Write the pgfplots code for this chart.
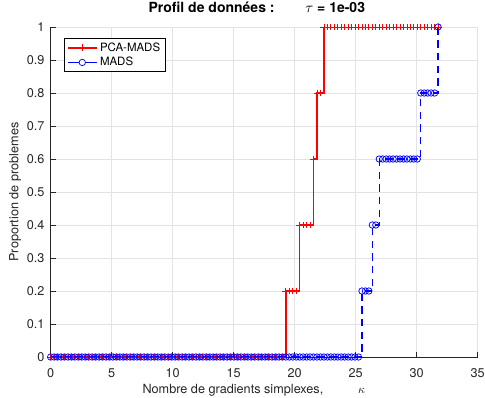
\documentclass[border=0pt]{standalone}
\usepackage{fontspec}
\setmainfont{TeX Gyre Heros}
\usepackage{pgfplots}
\usepackage{pgfplotstable}
\pgfplotsset{compat=1.18}
\definecolor{axgray}{HTML}{262626}
\definecolor{gridgray}{HTML}{E3E3E3}
\definecolor{pr}{RGB}{255,0,0}
\definecolor{pb}{RGB}{0,0,255}

\pgfplotstableread{
x red blue
0 0 0
0.2835 0 0
0.567 0 0
0.8505 0 0
1.134 0 0
1.4175 0 0
1.701 0 0
1.9845 0 0
2.268 0 0
2.5515 0 0
2.835 0 0
3.1185 0 0
3.402 0 0
3.6855 0 0
3.969 0 0
4.2525 0 0
4.536 0 0
4.8195 0 0
5.103 0 0
5.3865 0 0
5.67 0 0
5.9535 0 0
6.237 0 0
6.5205 0 0
6.804 0 0
7.0875 0 0
7.371 0 0
7.6545 0 0
7.938 0 0
8.2215 0 0
8.505 0 0
8.7885 0 0
9.072 0 0
9.3555 0 0
9.639 0 0
9.9225 0 0
10.206 0 0
10.4895 0 0
10.773 0 0
11.0565 0 0
11.34 0 0
11.6235 0 0
11.907 0 0
12.1905 0 0
12.474 0 0
12.7575 0 0
13.041 0 0
13.3245 0 0
13.608 0 0
13.8915 0 0
14.175 0 0
14.4585 0 0
14.742 0 0
15.0255 0 0
15.309 0 0
15.5925 0 0
15.876 0 0
16.1595 0 0
16.443 0 0
16.7265 0 0
17.01 0 0
17.2935 0 0
17.577 0 0
17.8605 0 0
18.144 0 0
18.4275 0 0
18.711 0 0
18.9945 0 0
19.278 0.2 0
19.5615 0.2 0
19.845 0.2 0
20.1285 0.2 0
20.412 0.4 0
20.6955 0.4 0
20.979 0.4 0
21.2625 0.4 0
21.546 0.6 0
21.8295 0.8 0
22.113 0.8 0
22.3965 1 0
22.68 1 0
22.9635 1 0
23.247 1 0
23.5305 1 0
23.814 1 0
24.0975 1 0
24.381 1 0
24.6645 1 0
24.948 1 0
25.2315 1 0
25.515 1 0.2
25.7985 1 0.2
26.082 1 0.2
26.3655 1 0.4
26.649 1 0.4
26.9325 1 0.6
27.216 1 0.6
27.4995 1 0.6
27.783 1 0.6
28.0665 1 0.6
28.35 1 0.6
28.6335 1 0.6
28.917 1 0.6
29.2005 1 0.6
29.484 1 0.6
29.7675 1 0.6
30.051 1 0.6
30.3345 1 0.8
30.618 1 0.8
30.9015 1 0.8
31.185 1 0.8
31.4685 1 0.8
31.752 1 1
}\datatable

\begin{document}
\begin{tikzpicture}
\path[use as bounding box] (-38pt,-30pt) rectangle (325.75pt,267.75pt);
\begin{axis}[
  at={(0,0)}, anchor=south west,
  scale only axis, width=320.25pt, height=247.5pt,
  xmin=0, xmax=35, ymin=0, ymax=1,
  xtick={0,5,10,15,20,25,30,35},
  ytick={0,0.1,0.2,0.3,0.4,0.5,0.6,0.7,0.8,0.9,1},
  /pgf/number format/assume math mode=true,
  axis x line*=bottom, axis y line*=left,
  axis line style={axgray, line width=0.6pt, -},
  tick align=inside, major tick length=3.75pt,
  tick style={axgray, line width=0.6pt},
  grid=major, major grid style={gridgray, line width=0.5pt},
  tick label style={font=\fontsize{9.5}{11}\selectfont, text=axgray},
  xticklabel style={yshift=-5pt},
  yticklabel style={xshift=-1.1pt},
  label style={font=\fontsize{9.5}{11}\selectfont, text=axgray},
  xlabel={Nombre de gradients simplexes,\hspace{26pt}$\kappa$},
  xlabel style={at={(axis description cs:0.4758,-0.1121)}, anchor=base},
  ylabel={Proportion de problemes},
  ylabel style={at={(axis description cs:-0.0754,0.5)}, anchor=base},
  title={Profil de données :\hspace{23pt}$\tau$ = 1e-03},
  title style={at={(axis description cs:0.4828,1.0212)}, anchor=base, font=\bfseries\fontsize{10.5}{12}\selectfont, text=black},
  legend style={at={(axis description cs:0,1)}, anchor=north west, xshift=10.2pt, yshift=-8.5pt,
    font=\fontsize{8.6}{10}\selectfont, inner xsep=2pt, inner ysep=1pt,
    row sep=-1pt},
  every legend/.append style={draw=black},
  legend cell align=left,
]
\addplot[const plot, pr, line width=1pt, no marks, forget plot]
  table[x=x, y=red]{\datatable};
\addplot[only marks, pr, mark=+, mark size=2.6pt, mark options={line width=0.6pt}, forget plot]
  table[x=x, y=red]{\datatable};
\addplot[const plot, pb, line width=0.9pt, dash pattern=on 5.5pt off 4pt, no marks, forget plot]
  table[x=x, y=blue]{\datatable};
\addplot[only marks, pb, mark=o, mark size=2.4pt, mark options={line width=0.55pt}, forget plot]
  table[x=x, y=blue]{\datatable};
\addlegendimage{legend image code/.code={
  \draw[pr, line width=1pt] (0cm,0cm) -- (0.76cm,0cm);
  \draw[pr, line width=0.6pt] (0.38cm,-2.6pt) -- (0.38cm,2.6pt) (0.38cm,0cm) ++(-2.6pt,0pt) -- ++(5.2pt,0pt);}}
\addlegendentry{PCA-MADS}
\addlegendimage{legend image code/.code={
  \draw[pb, line width=0.9pt] (0cm,0cm) -- (0.76cm,0cm);
  \draw[pb, fill=white, line width=0.55pt] (0.38cm,0cm) circle (2.4pt);}}
\addlegendentry{MADS}
\end{axis}
\end{tikzpicture}
\end{document}
